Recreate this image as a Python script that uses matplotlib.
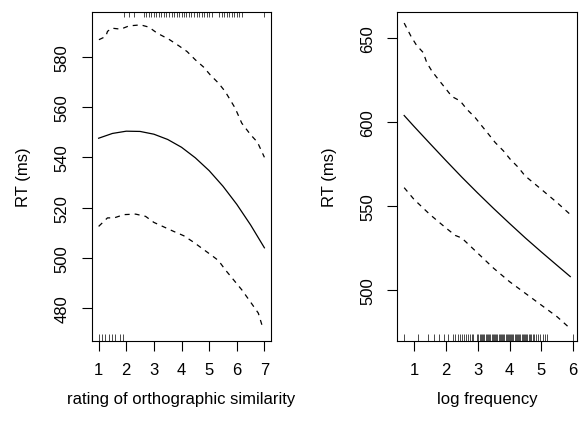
import matplotlib
matplotlib.use('Agg')
import matplotlib.pyplot as plt

plt.rcParams['font.family'] = ['Liberation Sans', 'DejaVu Sans']
plt.rcParams['font.size'] = 12

# left panel: rating of orthographic similarity
sim_x = [1.0, 1.5, 2.0, 2.5, 3.0, 3.5, 4.0, 4.5, 5.0, 5.5, 6.0, 6.5, 7.0]
sim_fit = [547.6, 549.5, 550.4, 550.3, 549.2, 547.1, 544.0, 539.8, 534.7,
           528.5, 521.3, 513.1, 504.0]

sim_up_x = [1.01, 1.26, 1.32, 1.47, 1.80, 2.10, 2.52, 2.82, 3.12, 3.54, 3.90,
            4.20, 4.50, 4.80, 5.04, 5.34, 5.58, 5.94, 6.18, 6.50, 6.75, 7.0]
sim_up = [586.8, 588.1, 590.1, 591.4, 591.0, 592.3, 592.7, 591.8, 589.4, 587.0,
          584.4, 582.1, 578.8, 575.9, 572.8, 569.5, 566.2, 559.6, 553.6, 549.0,
          546.0, 540.0]

sim_lo_x = [1.0, 1.32, 1.56, 1.92, 2.34, 2.70, 3.0, 3.72, 4.08, 4.44, 4.80,
            5.10, 5.34, 5.58, 5.88, 6.18, 6.48, 6.78, 6.96]
sim_lo = [512.5, 515.9, 515.9, 517.2, 517.4, 516.5, 514.1, 510.5, 508.8, 506.2,
          503.3, 500.9, 498.9, 495.3, 491.3, 487.3, 482.7, 478.0, 471.5]

sim_rug_top = [1.93, 2.10, 2.27,
               2.64, 2.73, 2.82, 2.91, 3.00, 3.09, 3.18, 3.27, 3.36, 3.45,
               3.55, 3.64, 3.73, 3.82, 3.91, 4.00, 4.09, 4.18, 4.27, 4.36,
               4.45, 4.55, 4.64, 4.73, 4.82, 4.91, 5.00, 5.09,
               5.36, 5.45, 5.55, 5.64, 5.73, 5.82, 5.91, 6.00, 6.09, 6.18,
               7.00]
sim_rug_bot = [1.00, 1.12, 1.24, 1.36, 1.48, 1.59, 1.76, 1.88]

# right panel: log frequency
freq_x = [0.69, 1.0, 1.5, 2.0, 2.5, 3.0, 3.5, 4.0, 4.5, 5.0, 5.5, 5.91]
freq_fit = [604.0, 597.5, 587.3, 577.2, 567.3, 557.8, 548.6, 539.7, 531.0,
            522.7, 514.6, 508.0]

freq_up_x = [0.69, 0.91, 1.08, 1.29, 1.40, 1.56, 1.76, 1.97, 2.19, 2.45, 2.66,
             2.92, 3.13, 3.34, 3.55, 3.81, 4.02, 4.28, 4.49, 5.0, 5.5, 5.91]
freq_up = [659.1, 651.0, 645.8, 641.5, 635.5, 630.5, 625.6, 620.6, 615.3, 612.7,
           607.7, 602.8, 597.8, 592.9, 587.9, 582.9, 578.0, 573.0, 568.0, 560.0,
           552.0, 545.0]

freq_lo_x = [0.69, 1.0, 1.5, 2.0, 2.3, 2.5, 3.0, 3.5, 4.0, 4.5, 5.0, 5.5, 5.91]
freq_lo = [561.0, 554.0, 545.0, 537.0, 532.5, 531.0, 522.0, 513.0, 505.0,
           498.0, 491.0, 484.0, 477.0]

freq_rug = [0.69, 1.12, 1.45, 1.63, 1.80, 1.93, 2.06, 2.23, 2.30, 2.38, 2.45,
            2.52, 2.58, 2.64, 2.70, 2.76, 2.82, 2.86, 2.97, 3.02, 3.06, 3.10,
            3.13, 3.17, 3.21, 3.25, 3.28, 3.33, 3.37, 3.40, 3.44, 3.48, 3.52,
            3.55, 3.58, 3.62, 3.66, 3.70, 3.73, 3.77, 3.80, 3.84, 3.88, 3.92,
            3.95, 3.98, 4.02, 4.06, 4.09, 4.12, 4.16, 4.20, 4.24, 4.27, 4.31,
            4.34, 4.38, 4.41, 4.45, 4.49, 4.52, 4.56, 4.60, 4.64, 4.68, 4.73,
            4.78, 4.84, 4.90, 4.97, 5.05, 5.12, 5.17, 5.99]

fig = plt.figure(figsize=(5.79, 4.27), dpi=100)
ax1 = fig.add_axes([0.1589, 0.199, 0.3092, 0.771])
ax2 = fig.add_axes([0.6865, 0.199, 0.31, 0.771])

dash = (0, (4, 4))


def style(ax, xticks, yticks, xlabel):
    for s in ax.spines.values():
        s.set_linewidth(0.8)
    ax.set_xticks(xticks)
    ax.set_yticks(yticks)
    ax.tick_params(length=7, width=0.8, labelsize=12)
    ax.tick_params(axis='x', pad=8)
    ax.tick_params(axis='y', pad=9)
    for lab in ax.get_yticklabels():
        lab.set_rotation(90)
        lab.set_va('center')
    ax.set_ylabel('RT (ms)', labelpad=17)
    ax.set_xlabel(xlabel, labelpad=10)


ax1.plot(sim_x, sim_fit, color='black', lw=0.9)
ax1.plot(sim_up_x, sim_up, color='black', lw=0.9, ls=dash)
ax1.plot(sim_lo_x, sim_lo, color='black', lw=0.9, ls=dash)
ax1.vlines(sim_rug_top, 0.983, 1.0, color='black', lw=0.5,
           transform=ax1.get_xaxis_transform())
ax1.vlines(sim_rug_bot, 0.0, 0.02, color='black', lw=0.5,
           transform=ax1.get_xaxis_transform())
ax1.set_xlim(0.76, 7.24)
ax1.set_ylim(466.9, 597.9)
style(ax1, [1, 2, 3, 4, 5, 6, 7], [480, 500, 520, 540, 560, 580],
      'rating of orthographic similarity')

ax2.plot(freq_x, freq_fit, color='black', lw=0.9)
ax2.plot(freq_up_x, freq_up, color='black', lw=0.9, ls=dash)
ax2.plot(freq_lo_x, freq_lo, color='black', lw=0.9, ls=dash)
ax2.vlines(freq_rug, 0.0, 0.02, color='black', lw=0.5,
           transform=ax2.get_xaxis_transform())
ax2.set_xlim(0.48, 6.12)
ax2.set_ylim(469.6, 665.8)
style(ax2, [1, 2, 3, 4, 5, 6], [500, 550, 600, 650], 'log frequency')

fig.savefig('out.png', dpi=100)
